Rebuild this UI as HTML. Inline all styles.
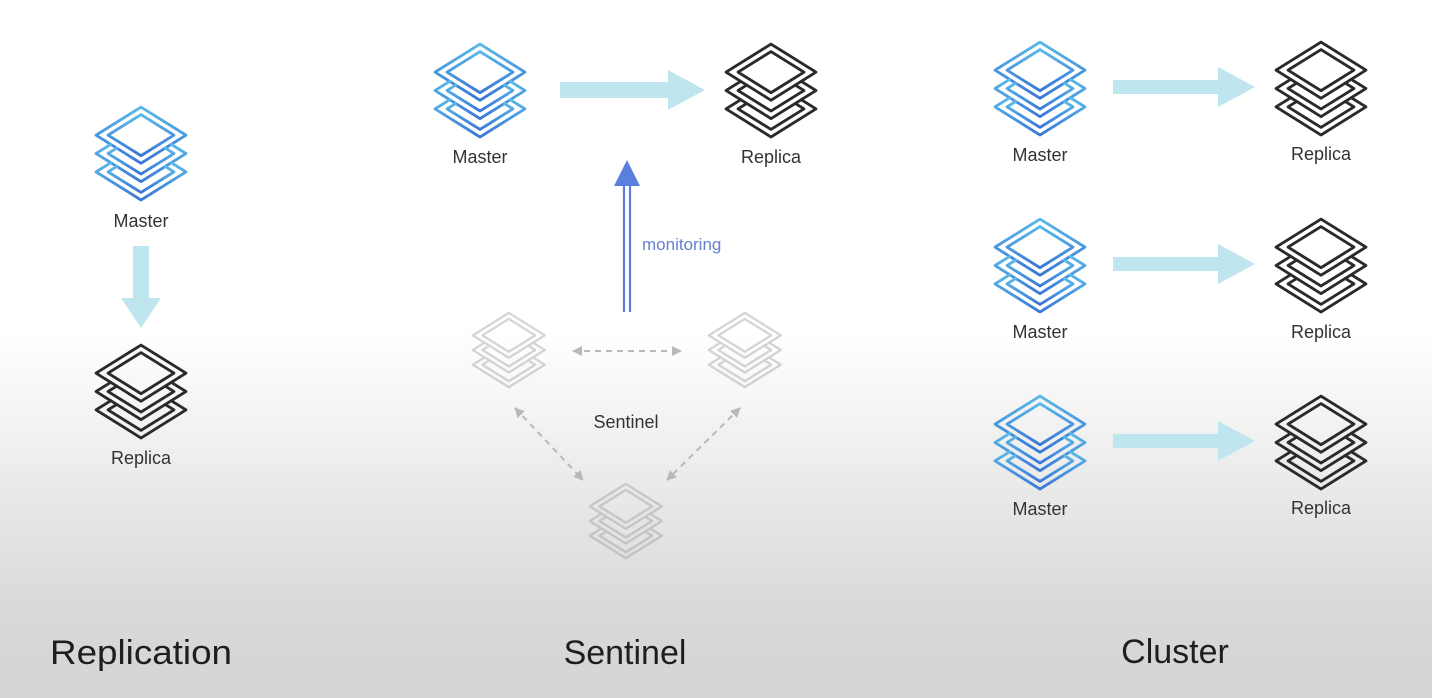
<!DOCTYPE html>
<html><head><meta charset="utf-8">
<style>
html,body{margin:0;padding:0;}
body{width:1432px;height:698px;overflow:hidden;background:linear-gradient(to bottom,#ffffff 0px,#ffffff 330px,#ececec 470px,#dadada 600px,#d4d4d4 698px);font-family:"Liberation Sans",sans-serif;}
svg{position:absolute;left:0;top:0;}
</style></head>
<body>
<svg width="1432" height="698" viewBox="0 0 1432 698" xmlns="http://www.w3.org/2000/svg">
<defs>
<linearGradient id="bl" x1="0" y1="0" x2="0" y2="1">
<stop offset="0" stop-color="#5ab8e8"/><stop offset="1" stop-color="#3a78d8"/>
</linearGradient>
<g id="stack" fill="none" stroke-width="2.7" stroke-linejoin="round" stroke-linecap="round">
<path d="M46 1 L91 27 L46 53 L1 27Z"/>
<path d="M46 8 L79 27 L46 46 L13 27Z"/>
<path d="M15.7 35.5 L1 44 L46 70 L91 44 L76.3 35.5"/>
<path d="M21.7 39 L13 44 L46 63 L79 44 L70.3 39"/>
<path d="M15.7 52.5 L1 61 L46 87 L91 61 L76.3 52.5"/>
<path d="M21.7 56 L13 61 L46 80 L79 61 L70.3 56"/>
</g>
<g id="s" ><use href="#stack" transform="scale(1,1.08)"/></g>
<marker id="ga" viewBox="0 0 10 10" refX="9" refY="5" markerWidth="5" markerHeight="5" orient="auto-start-reverse">
<path d="M0 0 L10 5 L0 10Z" fill="#b8b8b8"/>
</marker>
</defs>

<!-- Replication -->
<use href="#s" x="95" y="106" stroke="url(#bl)"/>
<text x="141" y="227" font-size="18" text-anchor="middle" fill="#333">Master</text>
<path d="M133 246 H149 V298 H161 L141 328 L121 298 H133Z" fill="#bfe6ee"/>
<use href="#s" x="95" y="344" stroke="#2a2a2a"/>
<text x="141" y="464" font-size="18" text-anchor="middle" fill="#333">Replica</text>
<text x="50" y="664" font-size="34" fill="#1e1e1e" textLength="182" lengthAdjust="spacingAndGlyphs">Replication</text>

<!-- Sentinel -->
<use href="#s" x="434" y="43" stroke="url(#bl)"/>
<text x="480" y="163" font-size="18" text-anchor="middle" fill="#333">Master</text>
<path d="M560 82 H668 V70 L705 90 L668 110 V98 H560Z" fill="#bfe6ee"/>
<use href="#s" x="725" y="43" stroke="#2a2a2a"/>
<text x="771" y="163" font-size="18" text-anchor="middle" fill="#333">Replica</text>
<line x1="624" y1="312" x2="624" y2="185" stroke="#5b7fdc" stroke-width="2.2"/>
<line x1="630" y1="312" x2="630" y2="185" stroke="#5b7fdc" stroke-width="2.2"/>
<path d="M614 186 L627 160 L640 186Z" fill="#5b7fdc"/>
<text x="642" y="250" font-size="17" fill="#6680d0">monitoring</text>
<g opacity="0.35">
<use href="#s" transform="translate(472 312) scale(0.8)" stroke="#888"/>
<use href="#s" transform="translate(708 312) scale(0.8)" stroke="#888"/>
<use href="#s" transform="translate(589 483) scale(0.8)" stroke="#888"/>
</g>
<g stroke="#b8b8b8" stroke-width="2" stroke-dasharray="6 5" fill="none">
<line x1="573" y1="351" x2="681" y2="351" marker-start="url(#ga)" marker-end="url(#ga)"/>
<line x1="515" y1="408" x2="583" y2="480" marker-start="url(#ga)" marker-end="url(#ga)"/>
<line x1="740" y1="408" x2="667" y2="480" marker-start="url(#ga)" marker-end="url(#ga)"/>
</g>
<text x="626" y="428" font-size="18" text-anchor="middle" fill="#333">Sentinel</text>
<text x="625" y="664" font-size="34" text-anchor="middle" fill="#1e1e1e">Sentinel</text>

<!-- Cluster -->
<g>
<use href="#s" x="994" y="41" stroke="url(#bl)"/>
<text x="1040" y="161" font-size="18" text-anchor="middle" fill="#333">Master</text>
<path d="M1113 80 H1218 V67 L1255 87 L1218 107 V94 H1113Z" fill="#bfe6ee"/>
<use href="#s" x="1275" y="41" stroke="#2a2a2a"/>
<text x="1321" y="160" font-size="18" text-anchor="middle" fill="#333">Replica</text>

<use href="#s" x="994" y="218" stroke="url(#bl)"/>
<text x="1040" y="338" font-size="18" text-anchor="middle" fill="#333">Master</text>
<path d="M1113 257 H1218 V244 L1255 264 L1218 284 V271 H1113Z" fill="#bfe6ee"/>
<use href="#s" x="1275" y="218" stroke="#2a2a2a"/>
<text x="1321" y="338" font-size="18" text-anchor="middle" fill="#333">Replica</text>

<use href="#s" x="994" y="395" stroke="url(#bl)"/>
<text x="1040" y="515" font-size="18" text-anchor="middle" fill="#333">Master</text>
<path d="M1113 434 H1218 V421 L1255 441 L1218 461 V448 H1113Z" fill="#bfe6ee"/>
<use href="#s" x="1275" y="395" stroke="#2a2a2a"/>
<text x="1321" y="514" font-size="18" text-anchor="middle" fill="#333">Replica</text>
</g>
<text x="1175" y="663" font-size="34" text-anchor="middle" fill="#1e1e1e">Cluster</text>
</svg>
</body></html>
